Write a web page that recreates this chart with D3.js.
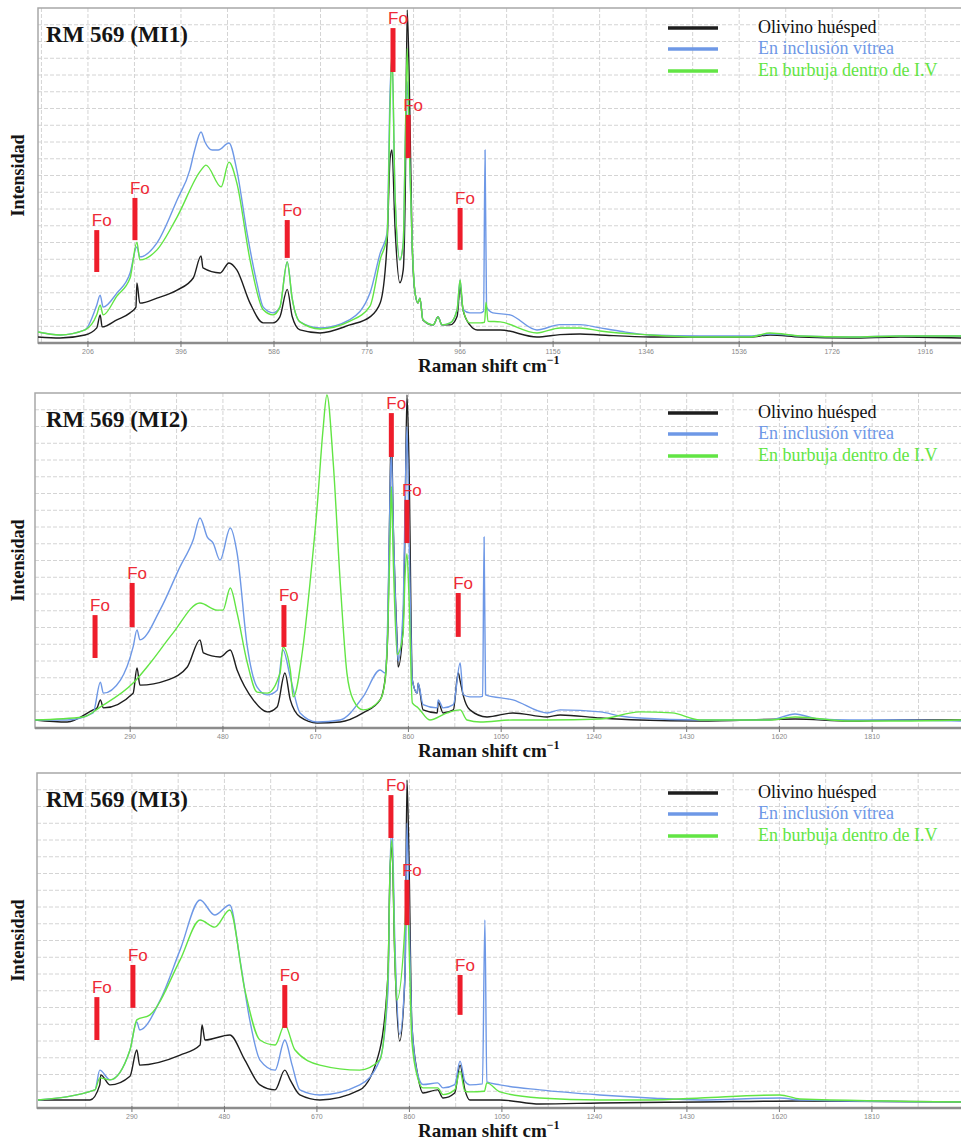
<!DOCTYPE html>
<html lang="es">
<head>
<meta charset="UTF-8">
<title>RM 569 - espectros Raman</title>
<script src="https://d3js.org/d3.v7.min.js"></script>
<style>
  body { margin: 0; background: #fff; }
  svg { display: block; }
  .grid line { stroke: #d4d4d4; stroke-dasharray: 4 2; stroke-width: 1; }
  .title { font-family: "Liberation Serif", "Times New Roman", serif; font-weight: bold; font-size: 23px; fill: #151515; }
  .axis-title { font-family: "Liberation Serif", "Times New Roman", serif; font-weight: bold; font-size: 19px; fill: #151515; }
  .legend text { font-family: "Liberation Serif", "Times New Roman", serif; font-size: 18px; }
  .tick-label { font-family: "Liberation Sans", Arial, sans-serif; font-size: 7px; fill: #8a8a8a; }
  .fo { font-family: "Liberation Sans", Arial, sans-serif; font-size: 17px; fill: #ee2a36; }
</style>
</head>
<body>
<script>
// ---- data (Raman shift cm-1, relative intensity 0-100) ----
const titles = ["RM 569 (MI1)", "RM 569 (MI2)", "RM 569 (MI3)"];
const seriesNames = ["Olivino huésped", "En inclusión vítrea", "En burbuja dentro de I.V"];
const seriesColors = ["#1e1e1e", "#6e98e6", "#62e544"];

const ticks1 = [206, 396, 586, 776, 966, 1156, 1346, 1536, 1726, 1916];
const ticks2 = [290, 480, 670, 860, 1050, 1240, 1430, 1620, 1810];
const ticks3 = [290, 480, 670, 860, 1050, 1240, 1430, 1620, 1810];

// MI1
const olivino1 = [[104,1.8],[149,1.5],[200,2.4],[224,4.5],[231,8.4],[235,4.8],[265,6.9],[292,9.0],[304,10.7],[306,17.9],[312,11.9],[347,13.4],[388,15.8],[421,19.4],[437,26.0],[441,22.4],[476,20.9],[494,23.9],[510,21.8],[537,11.9],[564,6.0],[584,6.0],[598,7.8],[613,16.0],[623,8.0],[639,3.9],[680,3.0],[741,5.4],[782,7.8],[803,12],[817,30],[823,55],[827,57.6],[833,35],[843,18],[850,22],[854,45],[858,99.4],[862,80],[868,30],[874,15],[880,11.9],[884,13.4],[890,6.9],[911,5.4],[921,7.8],[929,5.4],[946,5.4],[960,8],[966,16.7],[972,9.9],[986,5.4],[1001,3.9],[1048,3.9],[1123,1.8],[1170,2.5],[1211,2.7],[1252,2.4],[1354,1.8],[1456,1.8],[1558,1.8],[1599,2.4],[1661,1.8],[1763,1.5],[1865,1.8],[1989,1.5]];
const inclusion1 = [[104,3.3],[149,2.4],[200,3.9],[224,11.3],[231,14.3],[237,10.7],[265,14.9],[292,20.9],[306,28.7],[312,25.7],[347,29.9],[388,42.7],[414,51.6],[424,57.6],[437,63.0],[445,60],[460,57.6],[472,57.6],[494,59.7],[510,51.6],[531,32.8],[551,17.9],[564,10.7],[584,9.0],[598,10.7],[613,24.2],[623,13.4],[639,6.3],[680,4.5],[741,7],[782,14.9],[803,26.9],[817,32.8],[823,75],[827,85],[833,45],[843,24.8],[850,30],[854,60],[858,78],[862,60],[868,30],[874,15],[880,12],[884,13.4],[890,7],[911,5.4],[921,7.8],[929,5.4],[946,6],[960,10],[966,18.8],[972,10],[986,9.0],[1007,9.0],[1014,9.5],[1017,57.6],[1020,10.7],[1033,9.0],[1068,8.4],[1123,3.9],[1170,5.5],[1211,5.5],[1252,4.5],[1293,3.5],[1354,2.4],[1456,2.1],[1558,2.1],[1599,2.7],[1661,2.1],[1763,1.8],[1865,2.1],[1989,2.1]];
const burbuja1 = [[104,3.3],[149,2.4],[200,3.9],[224,8.4],[231,11.3],[237,8.4],[265,14.0],[292,19.4],[306,30.1],[312,24.8],[347,27.8],[388,37.6],[437,51.6],[447,53.1],[478,46.6],[494,54.0],[510,47.8],[537,24.8],[564,9.9],[584,8.4],[598,10.7],[613,24.2],[623,13.4],[639,6.3],[680,4.2],[741,6.5],[782,11],[803,25],[817,32],[823,70],[827,87.5],[833,45],[843,24.8],[850,30],[854,60],[858,88],[862,60],[868,30],[874,15],[880,12],[884,13.4],[890,7],[911,5.4],[921,7.8],[929,5.4],[946,6],[960,10],[966,18.8],[972,9.9],[986,6.0],[1007,6.0],[1016,6.2],[1019,12.2],[1023,6.5],[1048,6.3],[1123,3.0],[1170,4.5],[1211,4.5],[1252,3.6],[1354,2.4],[1456,1.8],[1558,1.8],[1599,3.0],[1661,2.1],[1763,1.8],[1865,2.1],[1989,2.1]];

// MI2
const olivino2 = [[95,2.4],[161,1.8],[214,5.4],[222,6.0],[229,8.4],[235,6.0],[296,10.4],[304,17.9],[310,12.8],[366,14.3],[407,18.2],[433,26.3],[440,22.4],[474,21.2],[495,23.3],[509,17.3],[542,8.4],[571,4.8],[591,6.3],[607,16.4],[618,8.4],[638,3.3],[673,1.5],[720,1.8],[767,4.5],[802,8.4],[812,14.3],[818,30],[823,78],[825,88],[829,60],[837,25.4],[839,18.2],[849,30],[853,60],[857,99.4],[861,80],[868,14.3],[878,10.4],[880,13.4],[890,5.4],[919,4.5],[921,7.8],[931,4.5],[952,5.4],[962,16.4],[966,14],[972,9.9],[986,5.4],[1021,3.3],[1074,4.5],[1144,3.3],[1171,3.9],[1253,3.0],[1334,2.4],[1457,2.1],[1652,2.7],[1765,2.1],[1867,2.4],[1992,2.4]];
const inclusion2 = [[95,2.4],[161,2.4],[214,4.5],[229,13.7],[235,10.4],[270,14.3],[296,24.2],[304,29.3],[310,26.3],[351,35.2],[392,48.1],[419,56.1],[433,62.7],[448,57.0],[460,55.2],[474,50.1],[495,59.7],[509,52.2],[530,24.2],[550,12.2],[571,9.9],[591,11.3],[603,23.3],[618,15.2],[638,4.5],[673,1.8],[720,2.4],[767,9.3],[802,17.3],[812,16.4],[818,35],[823,75],[825,82],[829,60],[837,24.2],[839,20],[849,35],[853,65],[857,90],[861,60],[868,14.3],[878,10.4],[880,13.4],[890,7],[919,6],[921,8.4],[931,6],[952,7],[966,19.4],[972,10],[986,9.3],[1007,9.3],[1012,9.5],[1015,57.0],[1018,9.9],[1074,8.4],[1144,4.5],[1171,5.4],[1253,4.8],[1294,3.6],[1334,3.0],[1457,2.4],[1600,2.4],[1652,4.2],[1700,2.7],[1765,2.4],[1867,2.4],[1992,2.1]];
const burbuja2 = [[95,2.4],[194,3.3],[229,6.3],[296,13.4],[331,19.4],[378,28.4],[433,37.3],[468,35.2],[480,35.2],[495,41.8],[509,34.3],[530,19.4],[550,10.7],[571,10.4],[597,16.4],[603,24.2],[618,17.3],[624,9.3],[644,24.2],[659,44.2],[673,66.0],[685,89.0],[693,99.4],[706,79.1],[720,44.2],[734,16.4],[747,8.4],[767,5.4],[802,8.4],[812,14],[818,30],[823,60],[825,72],[829,50],[837,22],[849,28],[853,45],[857,52],[861,40],[868,7.5],[880,6],[904,2.4],[939,4.5],[966,5.4],[980,2.4],[1007,1.8],[1074,2.4],[1144,2.4],[1253,2.7],[1334,4.8],[1400,4.5],[1457,2.4],[1600,2.4],[1652,3.3],[1765,2.1],[1867,2.1],[1992,2.4]];

// MI3
const olivino3 = [[97,2.4],[204,2.4],[224,6.9],[226,9.9],[245,6.9],[286,9.5],[300,17.3],[306,12.8],[389,15.8],[430,18.8],[434,24.8],[440,20.3],[491,21.8],[522,14.3],[553,6.9],[584,5.4],[604,11.3],[615,8.4],[635,3.9],[676,2.4],[758,5.4],[799,17.3],[816,40],[820,70],[824,78],[830,45],[840,20],[851,40],[855,97.9],[859,75],[865,25],[877,9.9],[888,4.5],[918,5.4],[929,3.0],[953,4.5],[964,12.8],[974,5.4],[984,2.4],[1046,2.4],[1128,1.2],[1251,1.5],[1457,1.8],[1662,2.1],[1993,1.8]];
const inclusion3 = [[97,2.4],[214,5.4],[224,11.3],[245,8.4],[286,17.3],[300,25.7],[306,23.3],[348,32.2],[389,47.2],[430,62.1],[460,57.6],[491,60.6],[512,44.2],[532,26.3],[553,14.3],[584,11.3],[604,20.3],[619,12.8],[635,5.4],[676,3.9],[758,6.9],[799,14.3],[816,35],[820,70],[824,85],[830,50],[840,22],[851,40],[855,85],[859,60],[865,25],[877,10],[888,7],[918,7.5],[929,6],[953,7],[964,14],[974,8],[984,6.9],[1010,7.2],[1015,56.1],[1019,7.8],[1046,6.9],[1128,5.4],[1251,3.9],[1354,3.0],[1457,2.4],[1621,3.0],[1662,2.4],[1993,1.8]];
const burbuja3 = [[97,2.4],[214,5.4],[224,9.0],[245,8.4],[286,17.3],[300,26.3],[327,27.8],[389,44.2],[430,56.1],[460,54],[491,59.1],[522,35.2],[553,20.3],[584,18.8],[604,24.8],[625,17.3],[676,12.8],[758,11.3],[799,14.3],[816,40],[820,70],[824,80],[830,45],[834,32.2],[851,55],[855,68.1],[859,50],[865,20],[877,9],[888,6],[918,6],[929,4],[953,5.4],[964,11],[974,5],[984,4.8],[1014,5.0],[1019,7.5],[1046,4.8],[1128,3.0],[1251,2.4],[1354,2.4],[1457,3.0],[1621,3.9],[1662,2.7],[1993,1.8]];

// forsterite markers: [shift, low intensity, high intensity]
const foMarks1 = [[224,21.2,33.7],[302,30.7,43.3],[613,25.4,36.7],[829,80.9,94.0],[860,55.2,68.1],[966,27.8,40.3]];
const foMarks2 = [[218,20.9,33.7],[294,30.1,43.3],[605,24.2,36.7],[825,80.9,94.0],[857,55.2,68.1],[962,27.2,40.3]];
const foMarks3 = [[218,20.3,33.1],[292,29.9,42.7],[604,23.9,36.7],[822,80.6,93.4],[855,54.6,68.1],[964,27.8,39.7]];

// ---- layout ----
const width = 961, height = 1142;
const panels = [
  { top: 8,   bottom: 343,  left: 38, domain: [104, 1989], ticks: ticks1, series: [olivino1, inclusion1, burbuja1], fo: foMarks1 },
  { top: 393, bottom: 728,  left: 35, domain: [95, 1992],  ticks: ticks2, series: [olivino2, inclusion2, burbuja2], fo: foMarks2 },
  { top: 773, bottom: 1108, left: 37, domain: [95, 1993],  ticks: ticks3, series: [olivino3, inclusion3, burbuja3], fo: foMarks3 }
];

const svg = d3.select('body').append('svg')
  .attr('width', width)
  .attr('height', height);

panels.forEach((p, i) => {
  const x = d3.scaleLinear().domain(p.domain).range([p.left, width]);
  const y = d3.scaleLinear().domain([0, 100]).range([p.bottom, p.top]);

  const g = svg.append('g');

  const clipId = 'clip' + i;
  g.append('clipPath').attr('id', clipId)
    .append('rect')
      .attr('x', p.left).attr('y', p.top - 2)
      .attr('width', width - p.left).attr('height', p.bottom - p.top + 2);

  // grid: every half tick step vertically, every 5 units horizontally
  const step = (p.ticks[1] - p.ticks[0]) / 2;
  const vLines = [];
  for (let v = p.ticks[0] - step; v < p.domain[1]; v += step) if (v > p.domain[0]) vLines.push(v);
  const hLines = d3.range(5, 100, 5);

  const grid = g.append('g').attr('class', 'grid');
  grid.selectAll('.v').data(vLines).enter().append('line')
    .attr('x1', d => x(d)).attr('x2', d => x(d))
    .attr('y1', p.top).attr('y2', p.bottom);
  grid.selectAll('.h').data(hLines).enter().append('line')
    .attr('x1', p.left).attr('x2', width)
    .attr('y1', d => y(d)).attr('y2', d => y(d));

  // frame
  g.append('rect')
    .attr('x', p.left).attr('y', p.top)
    .attr('width', width - p.left + 2).attr('height', p.bottom - p.top)
    .attr('fill', 'none').attr('stroke', '#a8a8a8').attr('stroke-width', 1.5);

  // spectra
  const line = d3.line()
    .x(d => x(d[0]))
    .y(d => y(d[1]))
    .curve(d3.curveMonotoneX);

  g.append('g').attr('clip-path', `url(#${clipId})`)
    .selectAll('path')
    .data(p.series)
    .enter().append('path')
      .attr('d', line)
      .attr('fill', 'none')
      .attr('stroke', (d, k) => seriesColors[k])
      .attr('stroke-width', 1.4)
      .attr('stroke-linejoin', 'round');

  // bottom axis
  g.append('line')
    .attr('x1', p.left).attr('x2', width)
    .attr('y1', p.bottom).attr('y2', p.bottom)
    .attr('stroke', '#8c8c8c').attr('stroke-width', 2.5);

  const tk = g.append('g');
  tk.selectAll('line').data(p.ticks).enter().append('line')
    .attr('x1', d => x(d)).attr('x2', d => x(d))
    .attr('y1', p.bottom - 2).attr('y2', p.bottom + 4)
    .attr('stroke', '#777').attr('stroke-width', 1);
  tk.selectAll('text').data(p.ticks).enter().append('text')
    .attr('class', 'tick-label')
    .attr('x', d => x(d)).attr('y', p.bottom + 11)
    .attr('text-anchor', 'middle')
    .text(d => d);

  // Fo markers
  const fo = g.append('g');
  fo.selectAll('rect').data(p.fo).enter().append('rect')
    .attr('x', d => x(d[0]) - 2.5)
    .attr('y', d => y(d[2]))
    .attr('width', 5)
    .attr('height', d => y(d[1]) - y(d[2]))
    .attr('fill', '#ee1d2b');
  fo.selectAll('text').data(p.fo).enter().append('text')
    .attr('class', 'fo')
    .attr('x', d => x(d[0]) - 5)
    .attr('y', d => y(d[2]) - 4)
    .text('Fo');

  // title
  g.append('text')
    .attr('class', 'title')
    .attr('x', 46).attr('y', p.top + 34)
    .text(titles[i]);

  // legend
  const lg = g.append('g').attr('class', 'legend');
  const rows = [20, 41, 63];
  seriesNames.forEach((name, k) => {
    lg.append('line')
      .attr('x1', 668).attr('x2', 718)
      .attr('y1', p.top + rows[k]).attr('y2', p.top + rows[k])
      .attr('stroke', seriesColors[k]).attr('stroke-width', 3.5);
    lg.append('text')
      .attr('x', 758).attr('y', p.top + rows[k] + 5)
      .attr('fill', k === 0 ? '#111' : seriesColors[k])
      .text(name);
  });

  // axis titles
  g.append('text')
    .attr('class', 'axis-title')
    .attr('transform', `translate(24,${(p.top + p.bottom) / 2}) rotate(-90)`)
    .attr('text-anchor', 'middle')
    .style('font-size', '18px')
    .text('Intensidad');

  const xt = g.append('text')
    .attr('class', 'axis-title')
    .attr('x', 418).attr('y', p.bottom + 29);
  xt.append('tspan').text('Raman shift cm');
  xt.append('tspan').attr('dy', -8).style('font-size', '12px').text('−1');
});
</script>
</body>
</html>
